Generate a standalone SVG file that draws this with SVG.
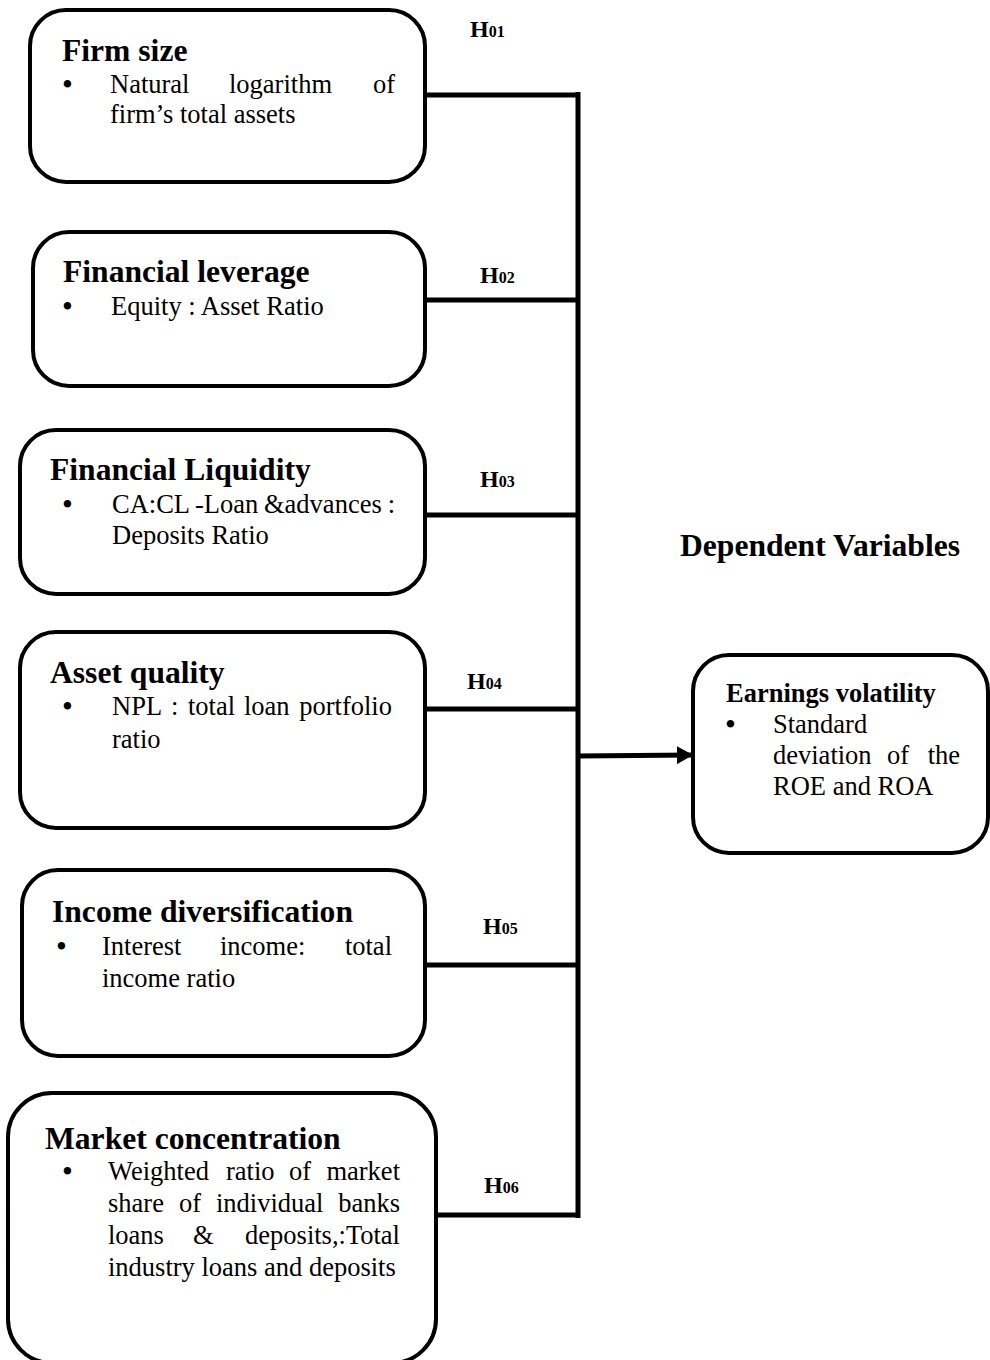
<svg xmlns="http://www.w3.org/2000/svg" width="990" height="1360" viewBox="0 0 990 1360">
<style>
.box{fill:#fff;stroke:#000;stroke-width:4}
.ln{stroke:#000;stroke-width:5;fill:none}
text{font-family:"Liberation Serif","Times New Roman",serif;fill:#000}
.t{font-size:31.6px;font-weight:bold}
.b{font-size:26.5px}
.u{font-size:31px}
.h{font-size:24px;font-weight:bold}
.s{font-size:16px}
.e{text-anchor:end}
.tb{font-size:26.5px;font-weight:bold}
</style>
<defs>
<marker id="ah" markerWidth="16" markerHeight="18" refX="16" refY="9" orient="auto" markerUnits="userSpaceOnUse">
<path d="M0,0 L16,9 L0,18 Z" fill="#000"/>
</marker>
</defs>
<g id="connectors">
<line class="ln" x1="578" y1="92" x2="578" y2="1218"/>
<line class="ln" x1="425" y1="95" x2="580" y2="95"/>
<line class="ln" x1="425" y1="300" x2="578" y2="300"/>
<line class="ln" x1="425" y1="515" x2="578" y2="515"/>
<line class="ln" x1="420" y1="709" x2="578" y2="709"/>
<line class="ln" x1="420" y1="965" x2="578" y2="965"/>
<line class="ln" x1="436" y1="1215" x2="580" y2="1215"/>
<line class="ln" x1="578" y1="756" x2="693" y2="755" marker-end="url(#ah)"/>
<text class="h" x="470" y="37">H<tspan class="s">01</tspan></text>
<text class="h" x="480" y="283">H<tspan class="s">02</tspan></text>
<text class="h" x="480" y="487">H<tspan class="s">03</tspan></text>
<text class="h" x="467" y="689">H<tspan class="s">04</tspan></text>
<text class="h" x="483" y="934">H<tspan class="s">05</tspan></text>
<text class="h" x="484" y="1193">H<tspan class="s">06</tspan></text>
</g>
<g id="firm-size">
<rect class="box" x="30" y="10" width="395" height="172" rx="36"/>
<text class="t" x="62" y="61">Firm size</text>
<text class="u" x="62" y="95">•</text>
<text class="b" x="110" y="93">Natural</text>
<text class="b" x="229" y="93">logarithm</text>
<text class="b e" x="395" y="93">of</text>
<text class="b" x="110" y="123">firm’s total assets</text>
</g>
<g id="financial-leverage">
<rect class="box" x="33" y="232" width="392" height="154" rx="36"/>
<text class="t" x="63" y="282">Financial leverage</text>
<text class="u" x="62" y="317">•</text>
<text class="b" x="111" y="315">Equity : Asset Ratio</text>
</g>
<g id="financial-liquidity">
<rect class="box" x="20" y="430" width="405" height="164" rx="36"/>
<text class="t" x="50" y="480">Financial Liquidity</text>
<text class="u" x="62" y="515">•</text>
<text class="b" x="112" y="513">CA:CL</text>
<text class="b" x="195" y="513">-Loan</text>
<text class="b" x="264" y="513">&amp;advances</text>
<text class="b e" x="395" y="513">:</text>
<text class="b" x="112" y="544">Deposits Ratio</text>
</g>
<g id="asset-quality">
<rect class="box" x="20" y="632" width="405" height="196" rx="36"/>
<text class="t" x="50" y="683">Asset quality</text>
<text class="u" x="62" y="717">•</text>
<text class="b" x="112" y="715">NPL</text>
<text class="b" x="171" y="715">:</text>
<text class="b" x="188" y="715">total</text>
<text class="b" x="244" y="715">loan</text>
<text class="b e" x="392" y="715">portfolio</text>
<text class="b" x="112" y="748">ratio</text>
</g>
<g id="income-diversification">
<rect class="box" x="22" y="870" width="403" height="186" rx="36"/>
<text class="t" x="52" y="922">Income diversification</text>
<text class="u" x="56" y="957">•</text>
<text class="b" x="102" y="955">Interest</text>
<text class="b" x="220" y="955">income:</text>
<text class="b e" x="392" y="955">total</text>
<text class="b" x="102" y="987">income ratio</text>
</g>
<g id="market-concentration">
<rect class="box" x="8" y="1093" width="428" height="270" rx="44"/>
<text class="t" x="45" y="1149">Market concentration</text>
<text class="u" x="62" y="1182">•</text>
<text class="b" x="108" y="1180">Weighted</text>
<text class="b" x="226" y="1180">ratio</text>
<text class="b" x="289" y="1180">of</text>
<text class="b e" x="400" y="1180">market</text>
<text class="b" x="108" y="1212">share</text>
<text class="b" x="179" y="1212">of</text>
<text class="b" x="216" y="1212">individual</text>
<text class="b e" x="400" y="1212">banks</text>
<text class="b" x="108" y="1244">loans</text>
<text class="b" x="193" y="1244">&amp;</text>
<text class="b e" x="400" y="1244">deposits,:Total</text>
<text class="b" x="108" y="1276">industry loans and deposits</text>
</g>
<g id="dependent-heading">
<text class="t" x="680" y="556">Dependent Variables</text>
</g>
<g id="earnings-volatility">
<rect class="box" x="693" y="655" width="295" height="198" rx="36"/>
<text class="tb" x="726" y="702">Earnings volatility</text>
<text class="u" x="725" y="735">•</text>
<text class="b" x="773" y="733">Standard</text>
<text class="b" x="773" y="764">deviation</text>
<text class="b" x="887" y="764">of</text>
<text class="b e" x="960" y="764">the</text>
<text class="b" x="773" y="795">ROE and ROA</text>
</g>
</svg>
